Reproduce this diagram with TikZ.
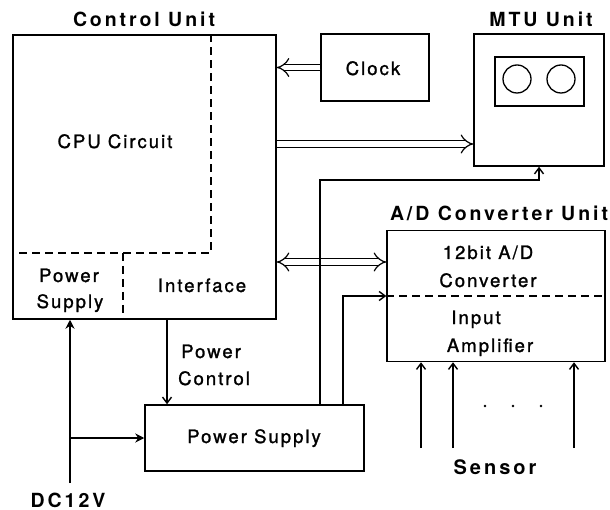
\documentclass[tikz,border=0pt]{standalone}
\usepackage{fontspec}
\usetikzlibrary{arrows.meta}
\newfontfamily\lblfont[LetterSpace=11,FakeBold=1.3]{TeX Gyre Heros}
\newfontfamily\ttlfont[LetterSpace=15]{TeX Gyre Heros}
\begin{document}
\begin{tikzpicture}[x=1pt,y=-1pt,
  box/.style={draw, line width=1.5pt, rectangle, inner sep=0pt},
  lbl/.style={inner sep=0pt, anchor=base, font=\lblfont\fontsize{18.5}{22}\selectfont},
  ttl/.style={inner sep=0pt, anchor=base, font=\ttlfont\bfseries\fontsize{19.5}{23}\selectfont},
  dsh/.style={line width=1.4pt, dash pattern=on 8pt off 5pt},
  arr/.style={line width=1.4pt, -{Straight Barb[length=6pt,width=9pt,line width=1.4pt]}},
  dbl/.style={double, double distance=5.5pt, line width=1.2pt, -{Implies}},
  dbll/.style={double, double distance=5.5pt, line width=1.2pt, {Implies}-{Implies}},
  thk/.style={line width=2.8pt, -{Stealth[length=9pt,width=9pt]}}
]
\useasboundingbox (0,0) rectangle (610,510);
\fill[white] (0,0) rectangle (610,510);

% boxes
\node[box, minimum width=263pt, minimum height=284pt] (cu) at (144.5,177) {};
\node[box, minimum width=108pt, minimum height=67pt] (clock) at (375,67.5) {};
\node[box, minimum width=130pt, minimum height=132pt] (mtu) at (539,100) {};
\node[box, minimum width=89pt, minimum height=49pt] (win) at (539.5,81.5) {};
\node[draw, line width=1.3pt, circle, minimum size=28pt, inner sep=0pt] (c1) at (517,79) {};
\node[draw, line width=1.3pt, circle, minimum size=28pt, inner sep=0pt] (c2) at (561,79) {};
\node[box, minimum width=218pt, minimum height=131pt] (ad) at (496,296) {};
\node[box, minimum width=219pt, minimum height=66pt] (ps) at (254.5,438) {};

% dashed partitions
\coordinate (d1) at (211,253);
\coordinate (d2) at (123,253);
\draw[dsh] (d1 |- cu.north) -- (d1) -- (d1 -| cu.west);
\draw[dsh] (d2) -- (d2 |- cu.south);
\coordinate (d3) at (0,296);
\draw[dsh] (d3 -| ad.west) -- (d3 -| ad.east);

% titles
\node[ttl] (tcu) at (144,27) {Control Unit};
\node[ttl] (tmtu) at (541,27) {MTU Unit};
\node[ttl] (tad) at (499,221) {A/D Converter Unit};

% labels
\node[lbl] (tcpu) at (115,148) {CPU Circuit};
\node[lbl] (tpw1) at (69,282) {Power};
\node[lbl] (tpw2) at (70,308) {Supply};
\node[lbl] (tif) at (202,292) {Interface};
\node[lbl] (tclk) at (373,75) {Clock};
\node[lbl] (tad1) at (488,259) {12bit A/D};
\node[lbl] (tad2) at (488,287) {Converter};
\node[lbl] (tad3) at (476,324) {Input};
\node[lbl] (tad4) at (490,352) {Amplifier};
\node[lbl, anchor=base west] (tpc1) at (181,358) {Power};
\node[lbl, anchor=base west] (tpc2) at (178,385) {Control};
\node[lbl] (tps) at (254,443) {Power Supply};
\node[ttl] (tdc) at (68,507) {DC12V};
\node[ttl, font=\ttlfont\bfseries\fontsize{20}{24}\selectfont] (tsen) at (495,474) {Sensor};

% double arrows
\draw[dbl] (clock.west) -- (clock.west -| cu.east);
\coordinate (y1) at (0,144);
\draw[dbl] (y1 -| cu.east) -- (y1 -| mtu.west);
\coordinate (y2) at (0,262);
\draw[dbll] (y2 -| cu.east) -- (y2 -| ad.west);

% power control
\coordinate (pcx) at (167,0);
\draw[arr] (pcx |- cu.south) -- (pcx |- ps.north);

% power supply feeds
\coordinate (f1) at (320,180);
\coordinate (f1e) at (539,180);
\draw[arr] (f1 |- ps.north) -- (f1) -- (f1e) -- (f1e |- mtu.south);
\coordinate (f2) at (343,296);
\draw[arr] (f2 |- ps.north) -- (f2) -- (f2 -| ad.west);

% DC 12V
\coordinate (dcb) at (70,483);
\coordinate (dcj) at (70,438);
\draw[thk] (dcb) -- (dcb |- cu.south);
\draw[thk] (dcj) -- (dcj -| ps.west);

% sensors
\coordinate (s1) at (421,448);
\coordinate (s2) at (453,448);
\coordinate (s3) at (574,448);
\draw[arr] (s1) -- (s1 |- ad.south);
\draw[arr] (s2) -- (s2 |- ad.south);
\draw[arr] (s3) -- (s3 |- ad.south);
\fill (485,406) circle (1.4pt) (513,406) circle (1.4pt) (541,406) circle (1.4pt);
\end{tikzpicture}
\end{document}
